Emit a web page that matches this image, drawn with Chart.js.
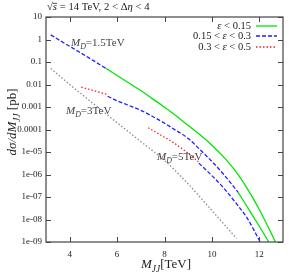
<!DOCTYPE html>
<html>
<head>
<meta charset="utf-8">
<script src="https://cdn.jsdelivr.net/npm/chart.js@4"></script>
<style>
  body { margin: 0; background: #fff; }
  #wrap { width: 289px; height: 275px; }
</style>
</head>
<body>
<div id="wrap"><canvas id="xsecChart" width="289" height="275"></canvas></div>
<script>
// valori (M_JJ in TeV, sigma in pb)

// M_D = 1.5 TeV
const mjjA_blue = [3.2, 3.8, 4.4, 5.0, 5.53];
const sigA_blue = [1.6, 0.66, 0.28, 0.115, 0.052];
const mjjA_green = [5.53, 6, 6.5, 7, 7.5, 8, 8.5, 9, 9.5, 10, 10.5, 11, 11.5, 12, 12.5, 12.68];
const sigA_green = [0.052, 0.025, 0.0117, 0.0054, 0.0023, 9.8e-4, 4.0e-4, 1.5e-4, 5.8e-5, 2.0e-5, 5.9e-6, 1.4e-6, 2.3e-7, 2.8e-8, 2.5e-9, 1.0e-9];

// M_D = 3 TeV
const mjjB_red = [4.49, 5.0, 5.58];
const sigB_red = [7.6e-3, 5.4e-3, 3.6e-3];
const mjjB_blue = [5.6, 6, 6.5, 7, 7.5, 8, 8.5, 9, 9.5, 10, 10.5, 11.1];
const sigB_blue = [3.0e-3, 1.9e-3, 1.17e-3, 7.1e-4, 3.8e-4, 1.9e-4, 8.9e-5, 4.0e-5, 1.26e-5, 3.8e-6, 1.0e-6, 1.66e-7];
const mjjB_green = [11.1, 11.5, 12, 12.4];
const sigB_green = [1.66e-7, 3.5e-8, 5.0e-9, 1.0e-9];

// M_D = 5 TeV
const mjjC_red = [7.31, 7.8, 8.3, 8.8, 9.43];
const sigC_red = [1.2e-4, 6.0e-5, 2.95e-5, 1.26e-5, 3.7e-6];
const mjjC_blue = [9.45, 10, 10.5, 11, 11.5, 12.04];
const sigC_blue = [3.2e-6, 8.9e-7, 2.5e-7, 5.6e-8, 1.1e-8, 1.0e-9];

// curva grigia tratteggiata
const mjjGray = [3.2, 4, 5, 6, 7, 8, 9, 10, 11.04];
const sigGray = [0.052, 0.01, 1.4e-3, 2.0e-4, 2.9e-5, 4.2e-6, 3.8e-7, 2.5e-8, 1.45e-9];

// assi
const xTicks = [4, 6, 8, 10, 12];
const yTickValues = [1e-9, 1e-8, 1e-7, 1e-6, 1e-5, 1e-4, 1e-3, 1e-2, 0.1, 1, 10];
const yTickLabels = ['1e-09', '1e-08', '1e-07', '1e-06', '1e-05', '0.0001', '0.001', '0.01', '0.1', '1', '10'];

const GREEN = '#00e600';
const BLUE = '#1f1fff';
const RED = '#ff2020';
const GRAY = '#8c8c8c';
const SERIF = '"Liberation Serif", "DejaVu Serif", serif';

function pts(xs, ys) {
    return xs.map((x, i) => ({ x: x, y: ys[i] }));
}

function line(xs, ys, color, dash) {
    return {
        data: pts(xs, ys),
        borderColor: color,
        borderWidth: 1.3,
        borderDash: dash,
        pointRadius: 0,
        fill: false,
        cubicInterpolationMode: 'monotone'
    };
}

// testo con corsivo e pedici
function rich(ctx, x, y, parts, size, align) {
    let w = 0;
    parts.forEach(p => {
        const s = p.sub ? size * 0.72 : size;
        ctx.font = (p.it ? 'italic ' : '') + s + 'px ' + SERIF;
        p.w = ctx.measureText(p.t).width;
        w += p.w;
    });
    let cx = align === 'right' ? x - w : (align === 'center' ? x - w / 2 : x);
    parts.forEach(p => {
        const s = p.sub ? size * 0.72 : size;
        ctx.font = (p.it ? 'italic ' : '') + s + 'px ' + SERIF;
        ctx.fillText(p.t, cx, p.sub ? y + size * 0.28 : y);
        if (p.over) {
            ctx.beginPath();
            ctx.lineWidth = 0.8;
            ctx.moveTo(cx, y - size * 0.62);
            ctx.lineTo(cx + p.w, y - size * 0.62);
            ctx.stroke();
        }
        cx += p.w;
    });
}

const decorPlugin = {
    id: 'decor',
    afterDraw(chart) {
        const ctx = chart.ctx;
        const a = chart.chartArea;
        const xs = chart.scales.x;
        const ys = chart.scales.y;
        ctx.save();

        // cornice
        ctx.strokeStyle = '#444';
        ctx.lineWidth = 1.2;
        ctx.strokeRect(a.left, a.top, a.right - a.left, a.bottom - a.top);

        // tacche interne
        ctx.lineWidth = 1;
        ctx.beginPath();
        xTicks.forEach(v => {
            const px = Math.round(xs.getPixelForValue(v)) + 0.5;
            ctx.moveTo(px, a.bottom); ctx.lineTo(px, a.bottom - 5);
            ctx.moveTo(px, a.top); ctx.lineTo(px, a.top + 5);
        });
        yTickValues.forEach(v => {
            const py = Math.round(ys.getPixelForValue(v)) + 0.5;
            ctx.moveTo(a.left, py); ctx.lineTo(a.left + 5, py);
            ctx.moveTo(a.right, py); ctx.lineTo(a.right - 5, py);
        });
        ctx.stroke();

        ctx.fillStyle = '#222';
        ctx.strokeStyle = '#222';
        ctx.textBaseline = 'alphabetic';

        // titolo
        rich(ctx, 47, 10, [
            { t: '\u221A' }, { t: 's', it: true, over: true },
            { t: ' = 14 TeV, 2 < \u0394' }, { t: '\u03B7', it: true }, { t: ' < 4' }
        ], 10.7, 'left');

        // etichetta asse x
        rich(ctx, 166, 268, [
            { t: 'M', it: true }, { t: 'JJ', it: true, sub: true }, { t: '[TeV]' }
        ], 13, 'center');

        // etichetta asse y
        ctx.save();
        ctx.translate(16, 122);
        ctx.rotate(-Math.PI / 2);
        rich(ctx, 0, 0, [
            { t: 'd\u03C3/dM', it: true }, { t: 'JJ', it: true, sub: true }, { t: ' [pb]' }
        ], 13, 'center');
        ctx.restore();

        // etichette delle curve
        ctx.fillStyle = '#444';
        rich(ctx, 71, 46, [{ t: 'M', it: true }, { t: 'D', it: true, sub: true }, { t: '=1.5TeV' }], 11, 'left');
        rich(ctx, 66, 114, [{ t: 'M', it: true }, { t: 'D', it: true, sub: true }, { t: '=3TeV' }], 11, 'left');
        rich(ctx, 157, 160, [{ t: 'M', it: true }, { t: 'D', it: true, sub: true }, { t: '=5TeV' }], 11, 'left');

        // legenda
        ctx.fillStyle = '#222';
        const leg = [
            { parts: [{ t: '\u03B5', it: true }, { t: ' < 0.15' }], color: GREEN, dash: [], y: 26 },
            { parts: [{ t: '0.15 < ' }, { t: '\u03B5', it: true }, { t: ' < 0.3' }], color: BLUE, dash: [4, 2], y: 36 },
            { parts: [{ t: '0.3 < ' }, { t: '\u03B5', it: true }, { t: ' < 0.5' }], color: RED, dash: [1.5, 2], y: 47 }
        ];
        leg.forEach(l => {
            rich(ctx, 251, l.y + 3, l.parts, 10.5, 'right');
            ctx.beginPath();
            ctx.strokeStyle = l.color;
            ctx.lineWidth = 1.3;
            ctx.setLineDash(l.dash);
            ctx.moveTo(256, l.y);
            ctx.lineTo(277, l.y);
            ctx.stroke();
            ctx.setLineDash([]);
        });

        ctx.restore();
    }
};

const xsecChartConfig = {
    type: 'line',
    data: {
        datasets: [
            line(mjjGray, sigGray, GRAY, [1.5, 2]),
            line(mjjA_blue, sigA_blue, BLUE, [4, 2]),
            line(mjjA_green, sigA_green, GREEN, []),
            line(mjjB_red, sigB_red, RED, [1.5, 2]),
            line(mjjB_blue, sigB_blue, BLUE, [4, 2]),
            line(mjjB_green, sigB_green, GREEN, []),
            line(mjjC_red, sigC_red, RED, [1.5, 2]),
            line(mjjC_blue, sigC_blue, BLUE, [4, 2])
        ]
    },
    options: {
        responsive: false,
        animation: false,
        devicePixelRatio: 1,
        layout: { padding: { top: 17, right: 6, left: 0, bottom: 0 } },
        plugins: {
            legend: { display: false },
            tooltip: { enabled: false },
            title: { display: false }
        },
        scales: {
            x: {
                type: 'linear',
                min: 3,
                max: 13,
                afterBuildTicks: scale => { scale.ticks = xTicks.map(v => ({ value: v })); },
                afterFit: scale => { scale.height = 33; },
                grid: { display: false, drawTicks: false },
                border: { display: false },
                ticks: {
                    padding: 7,
                    color: '#222',
                    font: { family: SERIF, size: 9 },
                    maxRotation: 0
                }
            },
            y: {
                type: 'logarithmic',
                min: 1e-9,
                max: 10,
                afterBuildTicks: scale => { scale.ticks = yTickValues.map(v => ({ value: v })); },
                afterFit: scale => { scale.width = 46; },
                grid: { display: false, drawTicks: false },
                border: { display: false },
                ticks: {
                    padding: 4,
                    color: '#222',
                    font: { family: SERIF, size: 9 },
                    callback: (value, index) => yTickLabels[index]
                }
            }
        }
    },
    plugins: [decorPlugin]
};

const xsecChart = new Chart(
    document.getElementById('xsecChart'),
    xsecChartConfig
);
</script>
</body>
</html>
